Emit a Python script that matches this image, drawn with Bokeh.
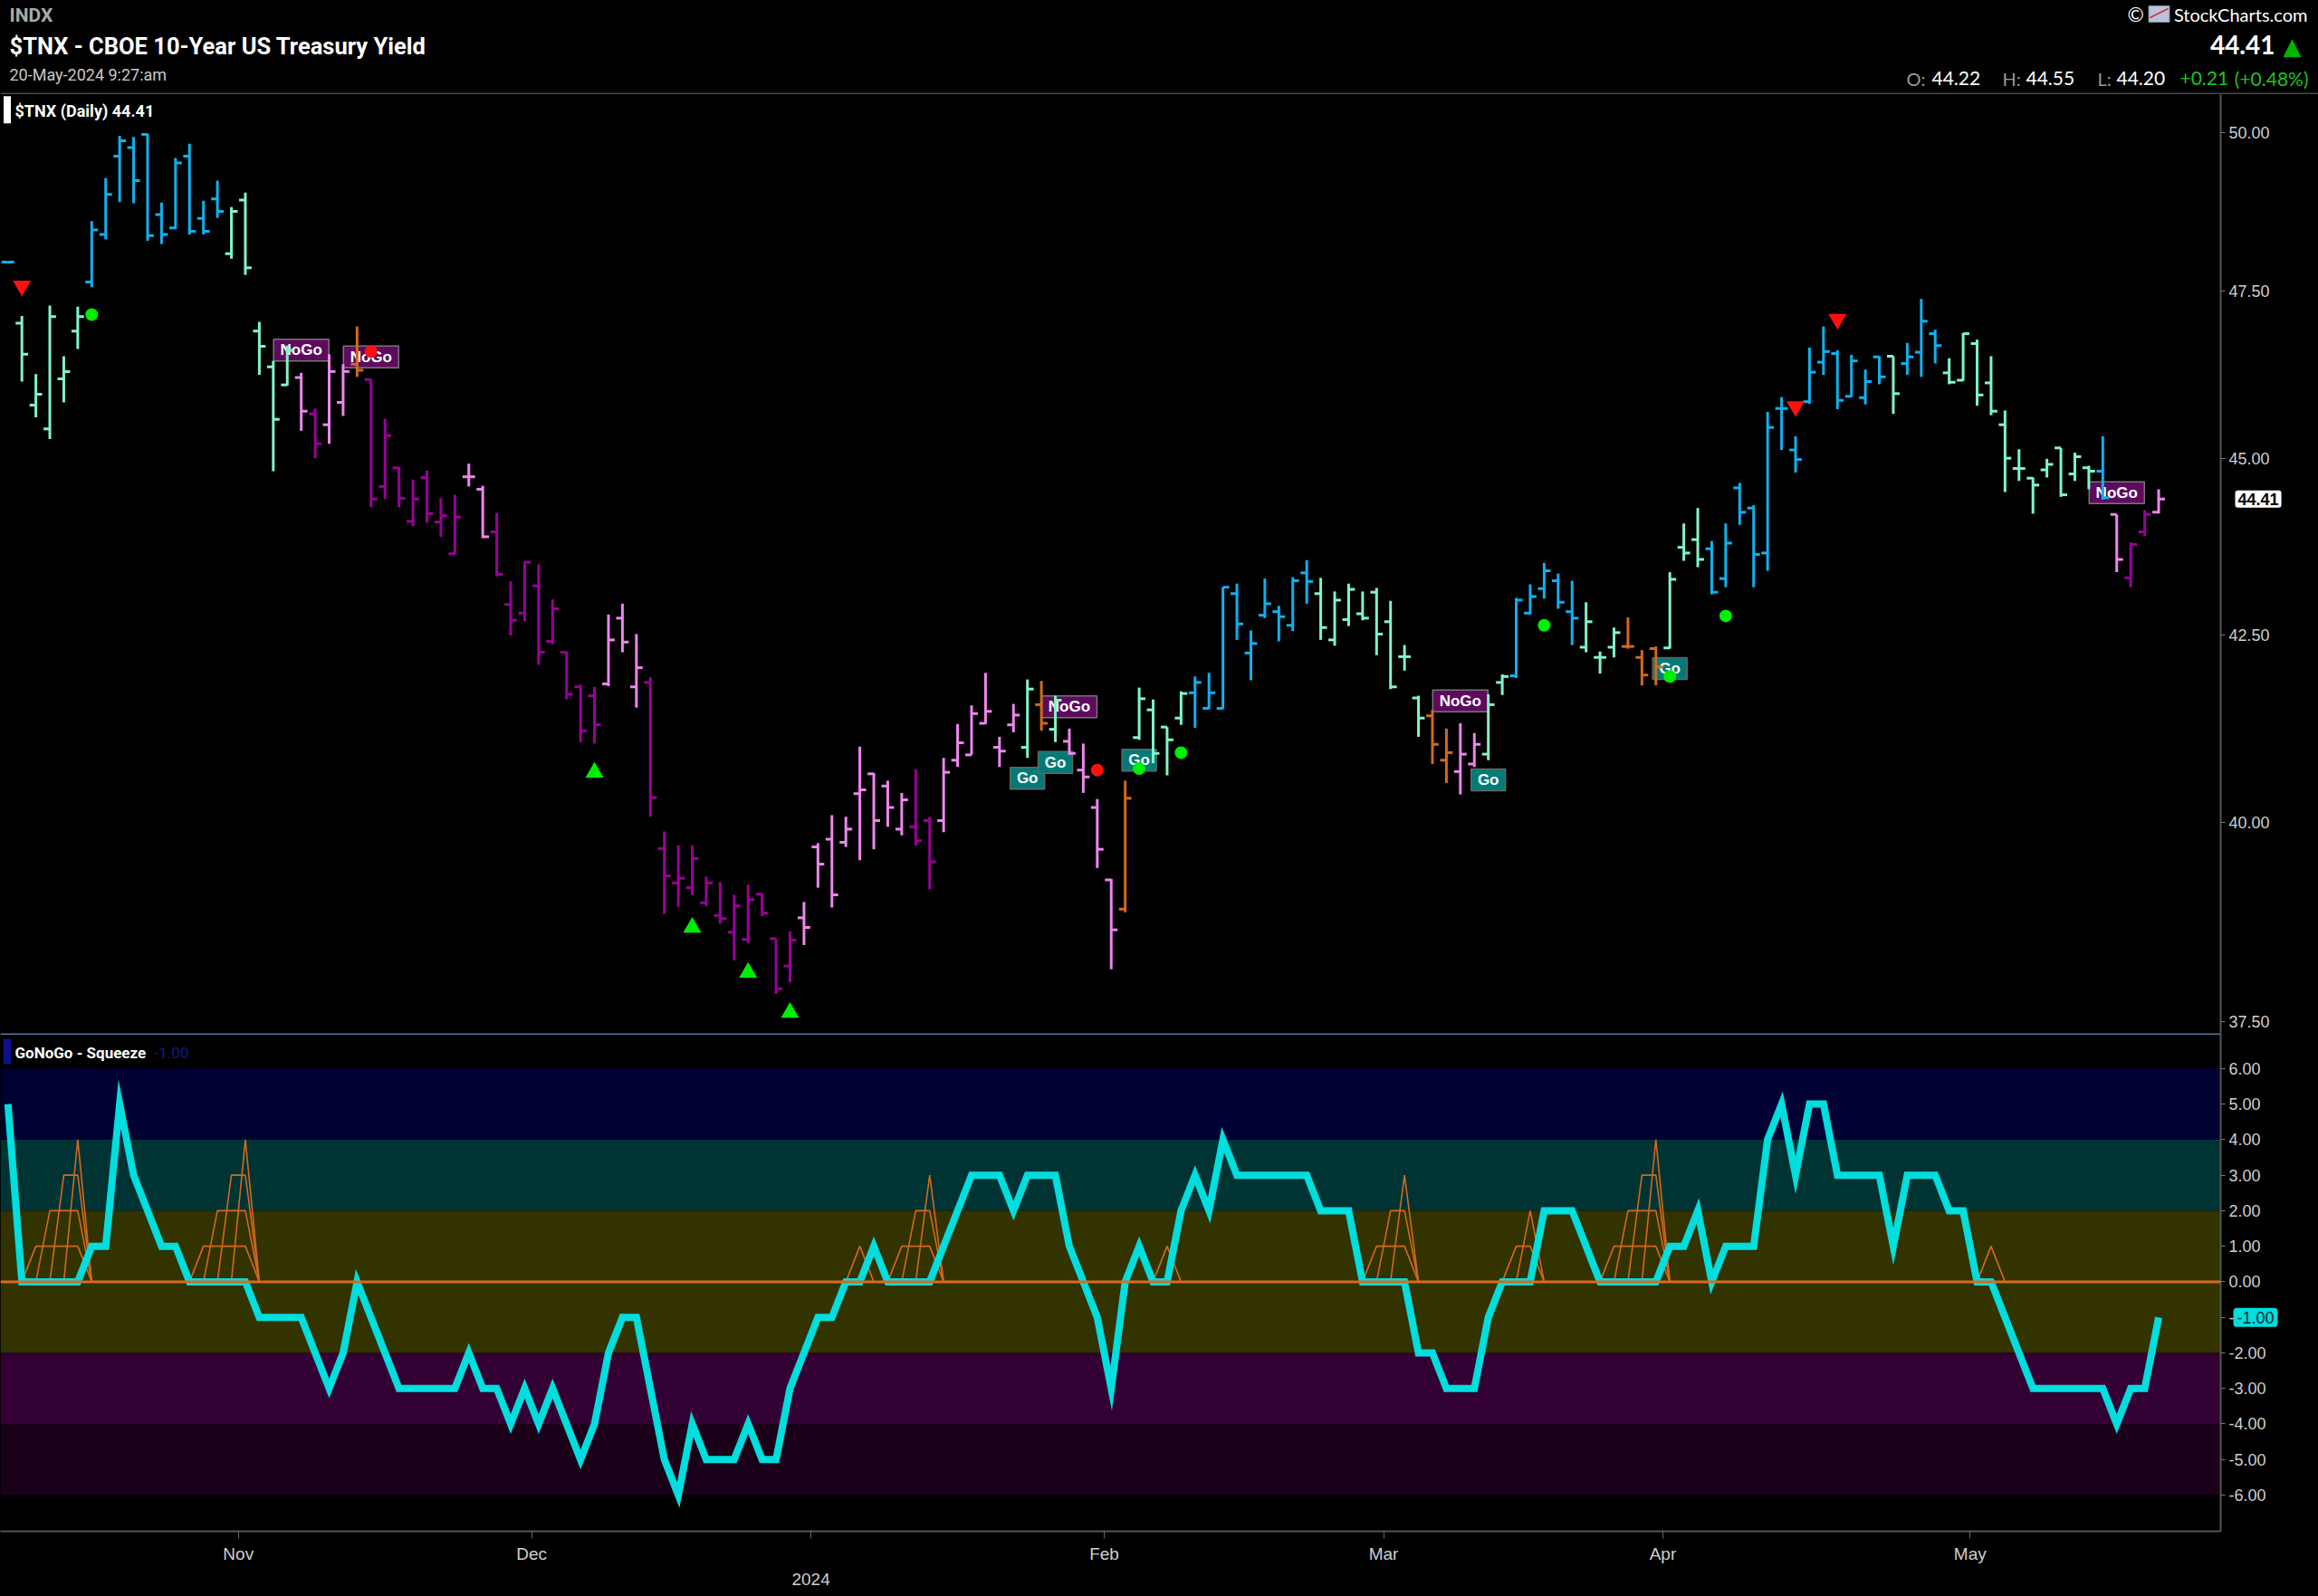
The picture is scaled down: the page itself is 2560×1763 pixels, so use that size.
from bokeh.plotting import figure
from bokeh.models import (Range1d, LinearAxis, FixedTicker, PrintfTickFormatter,
                          Label, Span, BoxAnnotation, ColumnDataSource)
from bokeh.layouts import column
from bokeh.embed import file_html
from bokeh.resources import INLINE
from bokeh.core.properties import value

# ------------------------------------------------------------------ data
# trading-day index: -1 = 09-Oct-2023 ... 153 = 20-May-2024
bar_index = list(range(-1, 154))

opens = [47.95,
 47.01, 45.78, 45.43, 46.17, 46.89, 47.64, 48.38, 49.62, 49.76, 49.97,
 48.69, 48.48, 49.62, 48.63, 48.94, 48.08, 48.92, 46.89, 46.35, 46.08,
 46.19, 45.65, 45.49, 45.82, 46.39, 46.16, 44.59, 44.86, 44.09, 44.72,
 44.08, 43.63, 44.73, 44.55, 43.94, 42.92, 42.80, 43.18, 42.41, 42.26,
 41.79, 41.67, 41.83, 42.73, 41.79, 41.85, 39.66, 39.22, 39.16, 38.97,
 38.81, 38.60, 38.51, 39.08, 38.52, 38.18, 38.78, 39.68, 39.78, 39.74,
 40.37, 40.63, 40.47, 39.91, 39.94, 40.02, 40.02, 40.81, 40.88, 41.30,
 40.98, 41.28, 40.98, 41.55, 41.22, 41.06, 40.68, 40.19, 39.26, 38.89,
 41.11, 41.48, 41.25, 41.37, 41.71, 41.50, 41.50, 43.07, 42.25, 42.77,
 42.82, 42.63, 43.36, 43.07, 42.43, 42.71, 42.79, 43.09, 42.68, 42.20,
 41.64, 41.40, 40.81, 40.66, 40.76, 40.89, 41.85, 41.94, 42.80, 43.14,
 43.25, 42.82, 42.33, 42.19, 42.33, 42.34, 42.19, 42.31, 42.32, 43.72,
 43.83, 43.70, 43.28, 44.57, 44.28, 43.64, 45.73, 45.12, 45.83, 46.42,
 46.55, 45.91, 45.89, 46.50, 46.51, 46.40, 46.57, 46.85, 46.26, 46.15,
 46.70, 46.11, 45.49, 44.85, 44.71, 44.83, 45.15, 44.77, 44.86, 44.81,
 44.19, 43.29, 43.94, 44.22]
highs = [47.95,
 47.12, 46.24, 47.28, 46.51, 47.26, 48.59, 49.27, 49.95, 49.93, 49.98,
 48.88, 49.59, 49.82, 48.91, 49.23, 48.81, 49.04, 47.03, 46.44, 46.67,
 46.26, 45.73, 46.54, 46.39, 46.96, 46.16, 45.58, 44.87, 44.69, 44.82,
 44.42, 44.47, 44.92, 44.60, 44.21, 43.24, 43.52, 43.48, 42.99, 42.27,
 41.82, 41.79, 42.78, 42.93, 42.51, 41.92, 39.88, 39.70, 39.70, 39.30,
 39.23, 39.07, 39.20, 39.08, 38.52, 38.61, 38.98, 39.73, 40.09, 40.07,
 40.99, 40.64, 40.54, 40.38, 40.69, 40.07, 40.84, 41.29, 41.54, 41.98,
 41.12, 41.56, 41.89, 41.87, 41.67, 41.23, 41.03, 40.30, 39.27, 40.54,
 41.78, 41.62, 41.25, 41.73, 41.93, 41.98, 43.16, 43.21, 42.56, 43.28,
 42.90, 43.30, 43.54, 43.29, 43.10, 43.21, 43.10, 43.15, 42.97, 42.36,
 41.67, 41.48, 41.23, 41.30, 41.17, 41.69, 41.96, 43.01, 43.20, 43.50,
 43.35, 43.25, 42.95, 42.27, 42.60, 42.74, 42.29, 42.34, 43.37, 44.06,
 44.28, 43.81, 44.06, 44.64, 44.32, 45.68, 45.90, 45.32, 46.64, 46.96,
 46.60, 46.53, 46.31, 46.51, 46.51, 46.71, 47.38, 46.91, 46.48, 46.86,
 46.76, 46.51, 45.70, 45.13, 44.72, 44.99, 45.15, 45.08, 44.89, 45.32,
 44.19, 43.79, 44.25, 44.55]
lows = [47.95,
 46.13, 45.60, 45.28, 45.82, 46.62, 47.56, 48.30, 48.89, 48.87, 48.28,
 48.23, 48.46, 48.38, 48.38, 48.64, 48.00, 47.75, 46.23, 44.81, 46.07,
 45.40, 45.00, 45.21, 45.62, 46.20, 44.29, 44.41, 44.29, 44.02, 44.07,
 43.87, 43.62, 44.59, 43.85, 43.31, 42.49, 42.69, 42.09, 42.37, 41.62,
 41.05, 41.03, 41.80, 42.26, 41.51, 40.07, 38.83, 38.92, 39.07, 38.93,
 38.71, 38.25, 38.47, 38.80, 37.84, 37.98, 38.44, 39.16, 38.91, 39.68,
 39.51, 39.65, 39.94, 39.83, 39.70, 39.14, 39.87, 40.72, 40.88, 41.29,
 40.72, 41.18, 40.84, 41.20, 41.05, 40.88, 40.38, 39.41, 38.14, 38.85,
 41.08, 40.77, 40.61, 41.28, 41.24, 41.49, 41.49, 42.43, 41.88, 42.73,
 42.41, 42.55, 42.93, 42.43, 42.35, 42.62, 42.70, 42.22, 41.76, 42.01,
 41.12, 40.76, 40.51, 40.36, 40.72, 40.81, 41.68, 41.91, 42.78, 43.00,
 42.86, 42.36, 42.26, 41.97, 42.19, 42.31, 41.81, 41.81, 42.31, 43.53,
 43.44, 43.06, 43.16, 44.04, 43.16, 43.39, 45.12, 44.79, 45.80, 46.23,
 45.72, 45.90, 45.79, 46.09, 45.65, 46.23, 46.20, 46.40, 46.09, 46.14,
 45.77, 45.63, 44.51, 44.67, 44.20, 44.72, 44.44, 44.67, 44.55, 44.40,
 43.37, 43.16, 43.88, 44.20]
closes = [47.95,
 46.54, 45.94, 47.11, 46.28, 47.11, 48.45, 49.01, 49.87, 49.23, 48.36,
 48.38, 49.51, 48.43, 48.43, 48.74, 48.74, 47.86, 46.66, 45.57, 46.60,
 45.69, 45.21, 46.28, 46.28, 46.30, 44.41, 45.33, 44.42, 44.41, 44.20,
 44.17, 44.15, 44.73, 43.87, 43.34, 42.70, 43.51, 42.26, 42.86, 41.69,
 41.20, 41.28, 42.43, 42.40, 42.05, 40.32, 39.31, 39.28, 39.53, 39.22,
 38.77, 38.93, 39.01, 38.84, 37.90, 38.50, 38.66, 39.46, 39.07, 39.91,
 40.42, 40.02, 40.19, 40.29, 39.76, 39.49, 40.65, 41.04, 41.43, 41.46,
 40.93, 41.41, 41.76, 41.30, 41.61, 40.90, 40.59, 39.65, 38.63, 40.31,
 41.63, 40.90, 41.08, 41.70, 41.85, 41.71, 43.16, 42.65, 42.38, 42.93,
 42.75, 43.25, 43.24, 42.60, 42.98, 43.13, 42.73, 42.51, 41.79, 42.20,
 41.37, 41.02, 40.91, 40.89, 41.02, 41.55, 41.93, 42.98, 43.03, 43.39,
 42.95, 42.73, 42.68, 42.19, 42.53, 42.34, 41.95, 42.06, 43.27, 43.64,
 43.55, 43.09, 43.78, 44.22, 43.62, 45.45, 45.73, 44.98, 46.27, 46.58,
 45.85, 46.44, 46.13, 46.20, 45.95, 46.50, 47.04, 46.67, 46.12, 46.85,
 45.93, 45.69, 45.00, 44.85, 44.61, 44.91, 44.47, 45.02, 44.81, 44.43,
 43.55, 43.76, 44.19, 44.41]
# GoNoGo trend colour per bar: B strong Go, A weak Go, O amber, P weak NoGo, M strong NoGo
trend = ("B" + "AAAAA" + "BBBBBBBBBB" + "AAAAA" + "PMPPO" + "MMMMMMM" + "PP" +
         "MMMMMMMM" + "PPP" + "MMMMMMMMMMM" + "PPPPPPPP" + "MM" + "PPPPPP" + "AOA" +
         "PPPP" + "O" + "AAAA" + "BBBBBBBBB" + "AAAAAAAA" + "OO" + "PP" + "AA" +
         "BBBBB" + "AAA" + "OOO" + "AAA" + "BBBBBBBBBBBBB" + "A" + "BBB" +
         "AAAAAAAAAAA" + "B" + "P" + "MM" + "P")

oscillator = [5,
 0, 0, 0, 0, 0,
 1, 1, 5, 3, 2, 1, 1,
 0, 0, 0, 0, 0,
 -1, -1, -1, -1,
 -2, -3, -2, 0, -1, -2, -3,
 -3, -3, -3, -3, -2, -3, -3,
 -4, -3, -4, -3, -4, -5, -4,
 -2, -1, -1, -3, -5, -6, -4,
 -5, -5, -5, -4, -5, -5, -3,
 -2, -1, -1, 0, 0, 1, 0,
 0, 0, 0, 1, 2, 3, 3,
 3, 2, 3, 3, 3, 1, 0,
 -1, -3, 0, 1, 0, 0, 2,
 3, 2, 4, 3, 3, 3, 3,
 3, 3, 2, 2, 2, 0, 0,
 0, 0, -2, -2, -3, -3, -3,
 -1, 0, 0, 0, 2, 2, 2,
 1, 0, 0, 0, 0, 0, 1,
 1, 2, 0, 1, 1, 1, 4,
 5, 3, 5, 5, 3, 3, 3,
 3, 1, 3, 3, 3, 2, 2,
 0, 0, -1, -2, -3, -3, -3,
 -3, -3, -3, -4, -3, -3, -1]
# squeeze level by bar index (others 0)
squeeze = {1: 1, 2: 2, 3: 3, 4: 4, 13: 1, 14: 2, 15: 3, 16: 4, 60: 1,
           63: 1, 64: 2, 65: 3, 82: 1, 97: 1, 98: 2, 99: 3, 107: 1, 108: 2,
           114: 1, 115: 2, 116: 3, 117: 4, 141: 1}

down_tri_idx = [0, 127, 130]
down_tri_px = [47.58, 45.76, 47.07]
up_tri_idx = [41, 48, 52, 55]
up_tri_px = [40.65, 38.66, 38.10, 37.61]
go_dot_idx = [5, 80, 83, 109, 118, 122]
go_dot_px = [47.14, 40.70, 40.91, 42.63, 41.93, 42.76]
nogo_dot_idx = [25, 77]
nogo_dot_px = [46.58, 40.68]
nogo_lbl_idx = [20, 25, 75, 103, 150]
nogo_lbl_px = [46.60, 46.50, 41.52, 41.60, 44.50]
go_lbl_idx = [72, 74, 80, 105, 118]
go_lbl_px = [40.57, 40.78, 40.81, 40.55, 42.04]

price_ticks = [37.5, 40.0, 42.5, 45.0, 47.5, 50.0]
osc_ticks = [-6, -5, -4, -3, -2, -1, 0, 1, 2, 3, 4, 5, 6]
month_ticks = [15.5, 36.5, 56.5, 77.5, 97.5, 117.5, 139.5]
month_labels = ["Nov", "Dec", "", "Feb", "Mar", "Apr", "May"]
year_tick = 56.5
year_label = "2024"
bands = [(4, 6, "#000033"), (2, 4, "#003434"), (-2, 2, "#333300"),
         (-4, -2, "#330033"), (-6, -4, "#1a0019")]

header_change = "+0.21"
header_change_pct = "(+0.48%)"
last_close = closes[-1]
last_osc = oscillator[-1]

# ------------------------------------------------------------------ layout / styling
COLORS = {"B": "#10b0ee", "A": "#7ff5c8", "O": "#d2691e", "P": "#ee86ee", "M": "#990099"}
W = 2560
FRAME_W = 2453
BAR_PX = 15.43
BAR0_PX = 23.7
x_start = -BAR0_PX / BAR_PX
x_range = Range1d(x_start, x_start + FRAME_W / BAR_PX)
AX_FONT = "Liberation Sans"


def px2idx(px):
    return (px - BAR0_PX) / BAR_PX


def style_yaxis(ax, ticks):
    ax.ticker = FixedTicker(ticks=ticks, minor_ticks=[])
    ax.formatter = PrintfTickFormatter(format="%.2f")
    ax.axis_line_color = "#555555"
    ax.axis_line_width = 2
    ax.major_tick_line_color = "#777777"
    ax.major_tick_out = 5
    ax.major_tick_in = 0
    ax.minor_tick_line_color = None
    ax.major_label_text_color = "#cfcfcf"
    ax.major_label_text_font = AX_FONT
    ax.major_label_text_font_size = "18px"
    ax.major_label_standoff = 4


# ------------------------------------------------------------------ header
p0 = figure(width=W, height=104, x_range=Range1d(0, W), y_range=Range1d(104, 0),
            x_axis_location=None, y_axis_location=None, title=None,
            output_backend="svg", toolbar_location=None,
            min_border=0, background_fill_color="black", border_fill_color="black",
            outline_line_color=None)
p0.grid.visible = False
try:
    p0.frame_align = False
except AttributeError:
    pass


def htext(x, y, text, size, color, bold=False, align="left", font="Roboto"):
    p0.text(x=[x], y=[y], text=[text], text_font=value(font), text_font_size=f"{size}px",
            text_color=color, text_font_style="bold" if bold else "normal",
            text_align=align, text_baseline="middle")


htext(10, 16, "INDX", 21, "#a9a9a9", bold=True)
htext(10, 50, "$TNX - CBOE 10-Year US Treasury Yield", 25.5, "white", bold=True)
htext(10, 82, "20-May-2024 9:27:am", 18, "#c8c8c8")
htext(2349, 15, "\u00a9", 22, "white", font="Lato")
p0.rect(x=[2384], y=[15], width=23, height=18, fill_color="#b9c4da", line_color="#7a869c")
p0.segment(x0=[2374], y0=[19], x1=[2394], y1=[9], line_color="#d03030", line_width=1.5)
htext(2548, 15, "StockCharts.com", 20, "white", align="right", font="Lato")
htext(2512, 49, f"{last_close:.2f}", 28, "white", bold=True, align="right", font="Lato")
htext(2521, 50, "\u25b2", 26, "#00b400", font="DejaVu Sans")
htext(2105, 86, "O:", 20, "#9a9a9a", font="Lato")
htext(2133, 86, f"{opens[-1]:.2f}", 21, "white", font="Lato")
htext(2211, 86, "H:", 20, "#9a9a9a", font="Lato")
htext(2237, 86, f"{highs[-1]:.2f}", 21, "white", font="Lato")
htext(2316, 86, "L:", 20, "#9a9a9a", font="Lato")
htext(2337, 86, f"{lows[-1]:.2f}", 21, "white", font="Lato")
htext(2407, 86, header_change, 21, "#1ec31e", font="Lato")
htext(2549, 86, header_change_pct, 21, "#1ec31e", align="right", font="Lato")
p0.segment(x0=[0], y0=[103], x1=[W], y1=[103], line_color="#4a4a4a", line_width=2)

# ------------------------------------------------------------------ price panel
P1_H = 1037
p1 = figure(width=W, height=P1_H, x_range=x_range, y_range=Range1d(37.357, 50.619),
            y_axis_type="log", y_axis_location="right", x_axis_location=None,
            title=None, output_backend="svg", toolbar_location=None,
            min_border_top=0, min_border_bottom=0, min_border_left=0,
            min_border_right=W - FRAME_W,
            background_fill_color="black", border_fill_color="black",
            outline_line_color=None)
p1.grid.visible = False
style_yaxis(p1.yaxis[0], price_ticks)

cols = [COLORS[c] for c in trend]
src = ColumnDataSource(dict(x=bar_index, xl=[i - 0.45 for i in bar_index],
                            xr=[i + 0.45 for i in bar_index], o=opens, h=highs,
                            l=lows, c=closes, col=cols))

nogo_src = ColumnDataSource(dict(x=nogo_lbl_idx, y=nogo_lbl_px, t=["NoGo"] * len(nogo_lbl_idx)))
go_src = ColumnDataSource(dict(x=go_lbl_idx, y=go_lbl_px, t=["Go"] * len(go_lbl_idx)))
p1.rect(x="x", y="y", width=61, height=24, width_units="screen", height_units="screen",
        fill_color="#5e0b5e", line_color="#777777", line_width=1.5, source=nogo_src)
p1.rect(x="x", y="y", width=38, height=24, width_units="screen", height_units="screen",
        fill_color="#007b78", line_color="#666666", line_width=1.5, source=go_src)
for s in (nogo_src, go_src):
    p1.text(x="x", y="y", text="t", source=s, text_align="center", text_baseline="middle",
            text_color="white", text_font=value(AX_FONT), text_font_style="bold",
            text_font_size="17px")

p1.segment(x0="x", y0="l", x1="x", y1="h", line_color="col", line_width=3, source=src)
p1.segment(x0="xl", y0="o", x1="x", y1="o", line_color="col", line_width=3, source=src)
p1.segment(x0="x", y0="c", x1="xr", y1="c", line_color="col", line_width=3, source=src)

p1.scatter(down_tri_idx, down_tri_px, marker="inverted_triangle", size=20,
           fill_color="#ff1010", line_color=None)
p1.scatter(up_tri_idx, up_tri_px, marker="triangle", size=20,
           fill_color="#00ee00", line_color=None)
p1.scatter(go_dot_idx, go_dot_px, marker="circle", size=14,
           fill_color="#00ee00", line_color=None)
p1.scatter(nogo_dot_idx, nogo_dot_px, marker="circle", size=14,
           fill_color="#ff1010", line_color=None)

# legend swatch + text
p1.rect(x=[px2idx(7.5)], y=[50.37], width=8, height=30, width_units="screen",
        height_units="screen", fill_color="white", line_color=None)
p1.add_layout(Label(x=16, y=P1_H - 18, x_units="screen", y_units="screen",
                    text=f"$TNX (Daily) {last_close:.2f}", text_font="Roboto",
                    text_font_size="18px", text_font_style="bold", text_color="white",
                    text_baseline="middle"))

# last value tag in the right-hand panel
p1.add_layout(Label(x=px2idx(2469), y=last_close, x_units="data", y_units="data",
                    text=f"{last_close:.2f}", text_font=AX_FONT, text_font_size="18px",
                    text_font_style="bold", text_color="black", text_baseline="middle",
                    background_fill_color="white", padding=3, border_radius=3), "right")

# ------------------------------------------------------------------ oscillator panel
p2 = figure(width=W, height=622, x_range=x_range, y_range=Range1d(-7.02, 6.99),
            y_axis_location="right", x_axis_location="below", title=None,
            output_backend="svg", toolbar_location=None,
            min_border_top=0, min_border_bottom=72, min_border_left=0,
            min_border_right=W - FRAME_W,
            background_fill_color="black", border_fill_color="black",
            outline_line_color=None)
p2.grid.visible = False
style_yaxis(p2.yaxis[0], osc_ticks)

for lo, hi, c in bands:
    p2.add_layout(BoxAnnotation(bottom=lo, top=hi, fill_color=c, fill_alpha=1,
                                line_color=None, level="underlay"))

# squeeze fans
sq = [squeeze.get(i, 0) for i in bar_index]
sq_xs, sq_ys = [], []
k = 0
n = len(bar_index)
while k < n:
    if sq[k] > 0:
        j = k
        while j + 1 < n and sq[j + 1] > 0:
            j += 1
        run = range(k, j + 1)
        m = max(sq[r] for r in run)
        for lev in range(1, m + 1):
            b = next(r for r in run if sq[r] >= lev)
            xb, xe = bar_index[b], bar_index[j]
            sq_xs.append([xb - 1, xb, xe, xe + 1])
            sq_ys.append([0, lev, lev, 0])
        k = j + 1
    else:
        k += 1
p2.multi_line(sq_xs, sq_ys, line_color="#d2691e", line_width=1.6)

p2.line(bar_index, oscillator, line_color="#00dede", line_width=8, line_join="miter")
p2.add_layout(Span(location=0, dimension="width", line_color="#dc6a1c", line_width=3))
p2.add_layout(Span(location=6.99, dimension="width", line_color="#56799f", line_width=3))

xa = p2.xaxis[0]
xa.ticker = FixedTicker(ticks=month_ticks, minor_ticks=[])
xa.major_label_overrides = {t: l for t, l in zip(month_ticks, month_labels)}
xa.axis_line_color = "#555555"
xa.axis_line_width = 2
xa.major_tick_line_color = "#666666"
xa.major_tick_out = 8
xa.major_tick_in = 0
xa.minor_tick_line_color = None
xa.major_label_text_color = "#cfcfcf"
xa.major_label_text_font = AX_FONT
xa.major_label_text_font_size = "19px"
xa.major_label_standoff = 6

ya = LinearAxis(ticker=FixedTicker(ticks=[year_tick], minor_ticks=[]),
                major_label_overrides={year_tick: year_label},
                axis_line_color=None, major_tick_line_color=None,
                minor_tick_line_color=None, major_label_text_color="#cfcfcf",
                major_label_text_font=AX_FONT, major_label_text_font_size="19px",
                major_label_standoff=2)
p2.add_layout(ya, "below")

# legend
p2.rect(x=[px2idx(7.5)], y=[6.48], width=8, height=28, width_units="screen",
        height_units="screen", fill_color="#10108c", line_color=None)
p2.add_layout(Label(x=16, y=6.45, x_units="screen", y_units="data", text="GoNoGo - Squeeze",
                    text_font="Roboto", text_font_size="17px", text_font_style="bold",
                    text_color="white", text_baseline="middle"))
p2.add_layout(Label(x=170, y=6.45, x_units="screen", y_units="data", text=f"{last_osc:.2f}",
                    text_font="Roboto", text_font_size="17px", text_color="#16168a",
                    text_baseline="middle"))

# current oscillator value tag in the right-hand panel
p2.add_layout(Label(x=px2idx(2467), y=last_osc, x_units="data", y_units="data",
                    text=f"{last_osc:.2f}", text_font=AX_FONT, text_font_size="18px",
                    text_color="#052a2a", text_baseline="middle",
                    background_fill_color="#00dede", padding=4, border_radius=4), "right")

layout = column(p0, p1, p2, spacing=0)
layout.styles = {"background-color": "black"}
open("out.html", "w").write(file_html(layout, INLINE, title="$TNX"))
